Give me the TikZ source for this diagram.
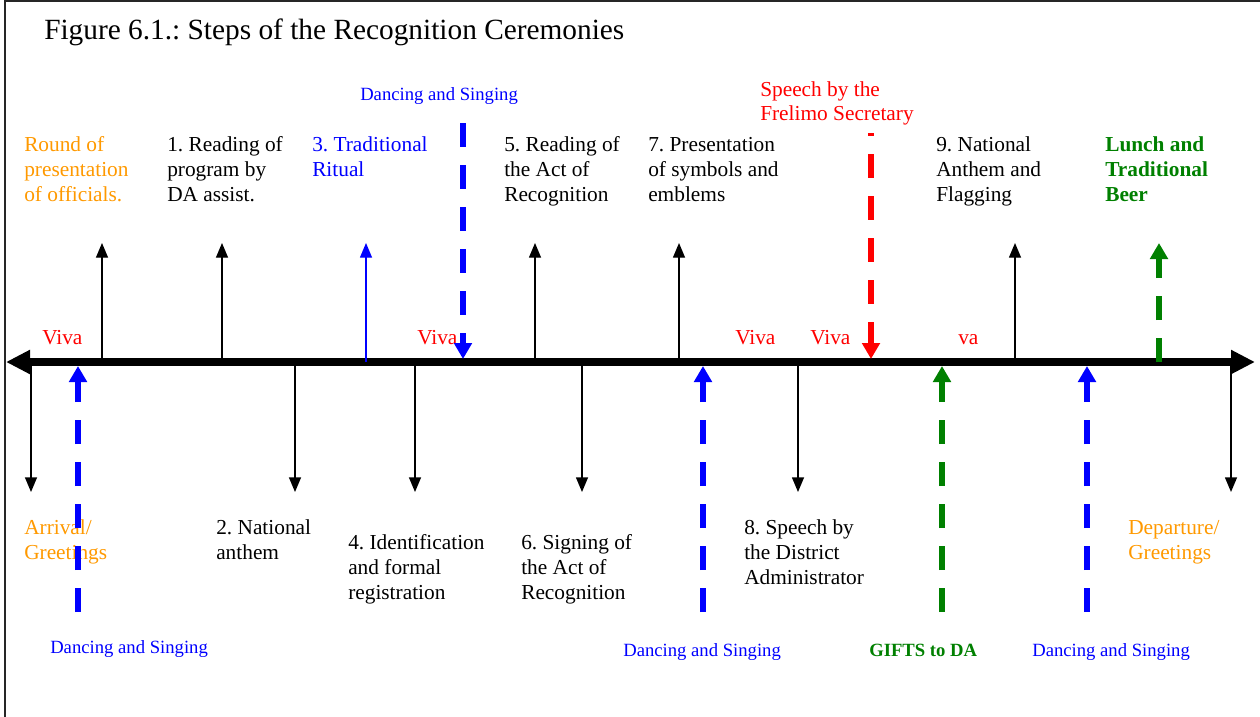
\documentclass[tikz,border=0pt]{standalone}
\usepackage{fontspec}
\setmainfont{Liberation Serif}
\usetikzlibrary{arrows.meta}
\definecolor{officialorange}{RGB}{255,153,0}
\definecolor{giftgreen}{RGB}{0,128,0}
\frenchspacing

\begin{document}
\begin{tikzpicture}[x=0.75pt,y=-0.75pt,
    steptext/.style={anchor=base west,inner sep=0pt,align=left,font=\fontsize{16}{18.4}\selectfont},
    dancetext/.style={anchor=base west,inner sep=0pt,text=blue,font=\fontsize{14}{16}\selectfont},
    vivatext/.style={anchor=base west,inner sep=0pt,text=red,font=\fontsize{16}{18.4}\selectfont},
    steparrow/.style={line width=1pt,-{Triangle[length=11pt,width=9pt]}},
    dancearrow/.style={line width=4.5pt,dash pattern=on 18pt off 13.5pt,-{Triangle[length=12pt,width=13pt]}}]
  \useasboundingbox (0,0) rectangle (1260,717);
  \draw[line width=1.5pt,black!85] (5,717) -- (5,1.5) -- (1260,1.5);

  \node[anchor=base west,inner sep=0pt,font=\fontsize{22}{26}\selectfont] (title) at (44,40) {Figure 6.1.: Steps of the Recognition Ceremonies};

  % steps above the line (base = last line)
  \node[steptext,text=officialorange] (officials) at (24,201) {Round of\\presentation\\of officials.};
  \node[steptext] (program) at (167,201) {1. Reading of\\program by\\DA assist.};
  \node[steptext,text=blue] (ritual) at (312,176.5) {3. Traditional\\Ritual};
  \node[steptext] (actread) at (504,201) {5. Reading of\\the Act of\\Recognition};
  \node[steptext] (emblems) at (648,201) {7. Presentation\\of symbols and\\emblems};
  \node[steptext] (flagging) at (936,201) {9. National\\Anthem and\\Flagging};
  \node[steptext,text=giftgreen,font=\fontsize{16}{18.4}\selectfont\bfseries] (lunch) at (1105,201) {Lunch and\\Traditional\\Beer};
  \node[steptext,text=red,font=\fontsize{16}{17.3}\selectfont] (frelimo) at (760,120) {Speech by the\\Frelimo Secretary};
  \node[dancetext] (dancetop) at (360,100) {Dancing and Singing};

  % steps below the line
  \node[steptext,text=officialorange] (arrival) at (24,559.5) {Arrival/\\Greetings};
  \node[steptext] (anthem) at (216,559.5) {2. National\\anthem};
  \node[steptext] (registration) at (348,599) {4. Identification\\and formal\\registration};
  \node[steptext] (signing) at (521,599) {6. Signing of\\the Act of\\Recognition};
  \node[steptext] (speechda) at (744,584) {8. Speech by\\the District\\Administrator};
  \node[steptext,text=officialorange] (departure) at (1128,559.5) {Departure/\\Greetings};
  \node[dancetext] (dance1) at (50,653) {Dancing and Singing};
  \node[dancetext] (dance2) at (623,656) {Dancing and Singing};
  \node[dancetext,text=giftgreen,font=\fontsize{14}{16}\selectfont\bfseries] (gifts) at (869,656) {GIFTS to DA};
  \node[dancetext] (dance3) at (1032,656) {Dancing and Singing};

  % viva
  \node[vivatext] (viva1) at (42,344) {Viva};
  \node[vivatext] (viva2) at (417,344) {Viva};
  \node[vivatext] (viva3) at (735,344) {Viva};
  \node[vivatext] (viva4) at (810,344) {Viva};
  \node[vivatext] (viva5) at (958,344) {va};

  % levels
  \coordinate (up) at (0,243);
  \coordinate (down) at (0,492);
  \coordinate (under) at (0,612);
  \coordinate (edgetop) at (0,359);
  \coordinate (edgebot) at (0,366);

  % time line
  \coordinate (start) at (6,362);
  \coordinate (end) at (1255,362);
  \draw[line width=6pt,{Triangle[length=18pt,width=17pt]}-{Triangle[length=18pt,width=17pt]}] (start) -- (end);

  \coordinate (pofficials) at (102,362);
  \coordinate (pprogram) at (222,362);
  \coordinate (pritual) at (366,362);
  \coordinate (pactread) at (535,362);
  \coordinate (pemblems) at (679,362);
  \coordinate (pflagging) at (1015,362);
  \coordinate (parrival) at (31,362);
  \coordinate (panthem) at (295,362);
  \coordinate (pregistration) at (415,362);
  \coordinate (psigning) at (582,362);
  \coordinate (pspeechda) at (798,362);
  \coordinate (pdeparture) at (1231,362);

  \draw[steparrow] (pofficials) -- (pofficials |- up);
  \draw[steparrow] (pprogram) -- (pprogram |- up);
  \draw[steparrow,blue] (pritual) -- (pritual |- up);
  \draw[steparrow] (pactread) -- (pactread |- up);
  \draw[steparrow] (pemblems) -- (pemblems |- up);
  \draw[steparrow] (pflagging) -- (pflagging |- up);
  \draw[steparrow] (parrival) -- (parrival |- down);
  \draw[steparrow] (panthem) -- (panthem |- down);
  \draw[steparrow] (pregistration) -- (pregistration |- down);
  \draw[steparrow] (psigning) -- (psigning |- down);
  \draw[steparrow] (pspeechda) -- (pspeechda |- down);
  \draw[steparrow] (pdeparture) -- (pdeparture |- down);

  % dancing, speech and gifts
  \coordinate (pdance1) at (78,362);
  \coordinate (pdancetop) at (463,123);
  \coordinate (pdance2) at (703,362);
  \coordinate (pfrelimo) at (871,133);
  \coordinate (pgifts) at (942,362);
  \coordinate (pdance3) at (1087,362);
  \coordinate (plunch) at (1159,362);

  \draw[dancearrow,blue] (pdance1 |- under) -- (pdance1 |- edgebot);
  \draw[dancearrow,blue] (pdancetop) -- (pdancetop |- edgetop);
  \draw[dancearrow,blue] (pdance2 |- under) -- (pdance2 |- edgebot);
  \draw[dancearrow,red,dash phase=15.75pt] (pfrelimo) -- (pfrelimo |- edgetop);
  \draw[dancearrow,giftgreen] (pgifts |- under) -- (pgifts |- edgebot);
  \draw[dancearrow,blue] (pdance3 |- under) -- (pdance3 |- edgebot);
  \draw[dancearrow,giftgreen] (plunch) -- (plunch |- up);
\end{tikzpicture}
\end{document}
